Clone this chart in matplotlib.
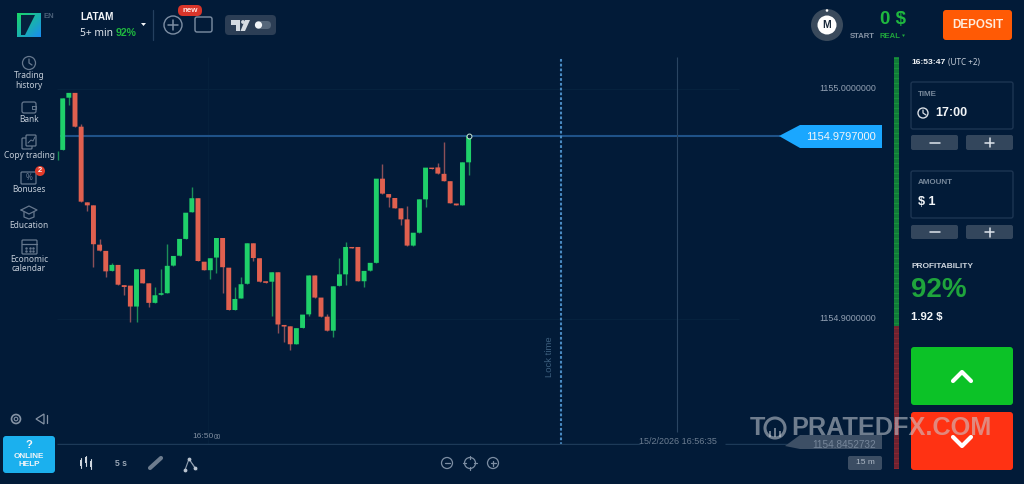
import numpy as np
from matplotlib import pyplot as plt
from matplotlib.patches import FancyBboxPatch, Circle, Polygon, Rectangle

opens = [
    1154.9735, 1154.9962, 1154.9983, 1154.9836, 1154.9507, 1154.9494, 1154.9323, 1154.9296, 1154.9209, 1154.9235,
    1154.9147, 1154.9145, 1154.9054, 1154.9216, 1154.9155, 1154.9070, 1154.9105, 1154.9112, 1154.9232, 1154.9275,
    1154.9348, 1154.9464, 1154.9525, 1154.9249, 1154.9212, 1154.9267, 1154.9352, 1154.9223, 1154.9039, 1154.9089,
    1154.9153, 1154.9329, 1154.9264, 1154.9164, 1154.9162, 1154.9203, 1154.8974, 1154.8968, 1154.8890, 1154.8961,
    1154.9020, 1154.9189, 1154.9093, 1154.9010, 1154.8949, 1154.9144, 1154.9194, 1154.9313, 1154.9313, 1154.9164,
    1154.9210, 1154.9244, 1154.9610, 1154.9543, 1154.9526, 1154.9481, 1154.9433, 1154.9319, 1154.9375, 1154.9520,
    1154.9658, 1154.9659, 1154.9631, 1154.9599, 1154.9502, 1154.9494, 1154.9681,
]
closes = [
    1154.9959, 1154.9983, 1154.9836, 1154.9510, 1154.9494, 1154.9325, 1154.9297, 1154.9207, 1154.9235, 1154.9149,
    1154.9139, 1154.9054, 1154.9216, 1154.9155, 1154.9070, 1154.9103, 1154.9112, 1154.9231, 1154.9274, 1154.9348,
    1154.9462, 1154.9525, 1154.9252, 1154.9212, 1154.9264, 1154.9352, 1154.9225, 1154.9039, 1154.9087, 1154.9151,
    1154.9329, 1154.9265, 1154.9162, 1154.9157, 1154.9203, 1154.8976, 1154.8967, 1154.8890, 1154.8960, 1154.9019,
    1154.9189, 1154.9093, 1154.9010, 1154.8949, 1154.9142, 1154.9194, 1154.9313, 1154.9307, 1154.9164, 1154.9209,
    1154.9244, 1154.9610, 1154.9545, 1154.9528, 1154.9481, 1154.9433, 1154.9319, 1154.9375, 1154.9520, 1154.9658,
    1154.9652, 1154.9632, 1154.9599, 1154.9503, 1154.9494, 1154.9681, 1154.9796,
]
highs = [
    1154.9959, 1154.9983, 1154.9983, 1154.9846, 1154.9507, 1154.9494, 1154.9349, 1154.9296, 1154.9245, 1154.9235,
    1154.9147, 1154.9145, 1154.9216, 1154.9216, 1154.9155, 1154.9141, 1154.9216, 1154.9326, 1154.9274, 1154.9348,
    1154.9462, 1154.9575, 1154.9525, 1154.9249, 1154.9264, 1154.9352, 1154.9352, 1154.9223, 1154.9138, 1154.9181,
    1154.9329, 1154.9329, 1154.9264, 1154.9164, 1154.9203, 1154.9203, 1154.8974, 1154.8968, 1154.8960, 1154.9019,
    1154.9189, 1154.9189, 1154.9093, 1154.9020, 1154.9142, 1154.9264, 1154.9336, 1154.9313, 1154.9313, 1154.9209,
    1154.9244, 1154.9610, 1154.9673, 1154.9543, 1154.9526, 1154.9481, 1154.9489, 1154.9375, 1154.9520, 1154.9658,
    1154.9658, 1154.9680, 1154.9771, 1154.9599, 1154.9502, 1154.9681, 1154.9796,
]
lows = [
    1154.9735, 1154.9930, 1154.9836, 1154.9510, 1154.9471, 1154.9228, 1154.9297, 1154.9184, 1154.9209, 1154.9149,
    1154.9105, 1154.8986, 1154.8986, 1154.9155, 1154.9054, 1154.9070, 1154.9105, 1154.9112, 1154.9232, 1154.9275,
    1154.9348, 1154.9464, 1154.9252, 1154.9212, 1154.9173, 1154.9199, 1154.9112, 1154.9039, 1154.9039, 1154.9089,
    1154.9153, 1154.9254, 1154.9162, 1154.9157, 1154.9013, 1154.8938, 1154.8902, 1154.8865, 1154.8890, 1154.8961,
    1154.9013, 1154.9093, 1154.9010, 1154.8949, 1154.8920, 1154.9144, 1154.9148, 1154.9307, 1154.9164, 1154.9141,
    1154.9210, 1154.9244, 1154.9545, 1154.9486, 1154.9481, 1154.9407, 1154.9319, 1154.9319, 1154.9375, 1154.9486,
    1154.9652, 1154.9632, 1154.9599, 1154.9503, 1154.9494, 1154.9494, 1154.9626,
]
price_ticks = [1155.0, 1154.9]
price_labels = ["1155.0000000", "1154.9000000"]
current_price = 1154.9797
bottom_price = 1154.8452732
clipped_wick = [1154.9691, 1154.9730]  # stub of the candle hidden by the side bar

BG = "#021b38"
GREEN = "#1fd06a"
RED = "#e0604f"
WHITE = "#f2f5f8"
ICON = "#66788e"
SANS = "Noto Sans"
ARIAL = "Liberation Sans"

fig = plt.figure(figsize=(10.24, 4.84), dpi=100, facecolor=BG)

# chart area, placed on the same pixels as the reference
ax = fig.add_axes([57 / 1024, 1 - 445 / 484, 826 / 1024, 388 / 484], zorder=2)
ax.patch.set_alpha(0)
ax.axis("off")
ax.set_xlim((57 - 62.7) / 6.15, (883 - 62.7) / 6.15)
ax.set_ylim(1154.8452, 1155.0139)

idx = np.arange(len(opens))
o = np.array(opens)
c = np.array(closes)
up = c >= o
body_col = [GREEN if u else RED for u in up]
wick_col = ["#1b8f58" if u else "#8c5058" for u in up]

ax.hlines(price_ticks, ax.get_xlim()[0], 110, color="#07233f", lw=0.7, zorder=1)
ax.vlines([(208 - 62.7) / 6.15], *ax.get_ylim(), color="#06213d", lw=0.7, zorder=1)
ax.hlines(current_price, -0.4, (780 - 62.7) / 6.15, color="#1f5288", lw=1.5, zorder=2)
ax.vlines(idx, lows, highs, color=wick_col, lw=1.0, zorder=3)
ax.vlines([-0.76], clipped_wick[0], clipped_wick[1], color="#1b8f58", lw=1.0, zorder=3)
ax.bar(idx, np.abs(c - o), bottom=np.minimum(o, c), width=0.8, color=body_col, zorder=4, snap=False)
ax.plot([idx[-1]], [closes[-1]], "o", ms=3.5, mfc=BG, mec="#c9e8d6", mew=0.7, zorder=5)

ax.vlines((561 - 62.7) / 6.15, *ax.get_ylim(), color="#4a8cc4", lw=1.5, linestyles=(0, (1.3, 1.0)), zorder=2)
ax.vlines((677 - 62.7) / 6.15, 1154.8508, 1155.0139, color="#2a4562", lw=0.8, zorder=2)
ax.hlines(1154.8452 + 0.0003, ax.get_xlim()[0], (640 - 62.7) / 6.15, color="#1d3a58", lw=1.0, zorder=2)
ax.hlines(1154.8452 + 0.0003, (725 - 62.7) / 6.15, (800 - 62.7) / 6.15, color="#1d3a58", lw=1.0, zorder=2)

price_x = (876 - 57) / 826
for p, lab in zip(price_ticks, price_labels):
    ax.text(price_x, p, lab, transform=ax.get_yaxis_transform(), ha="right", va="center",
            color="#93a1b3", fontsize=6.4, family=ARIAL)

# everything else of the trading screen, in pixel coordinates
ui = fig.add_axes([0, 0, 1, 1], zorder=3)
ui.patch.set_alpha(0)
ui.axis("off")


def text(x, y, s, color=WHITE, size=7, ha="left", weight="normal", family=None, **kw):
    if family is None:
        family = ARIAL if weight == "bold" else SANS
    return ui.text(x, y, s, color=color, fontsize=size, ha=ha, va="center", weight=weight, family=family, **kw)


def box(x0, y0, x1, y1, fc, ec="none", r=2, lw=1, z=2, alpha=None):
    ui.add_patch(FancyBboxPatch((x0 + r, y0 + r), x1 - x0 - 2 * r, y1 - y0 - 2 * r,
                                boxstyle=f"round,pad={r},rounding_size={r}", fc=fc, ec=ec, lw=lw, zorder=z, alpha=alpha))


def line(xs, ys, color=ICON, lw=0.9, z=3):
    ui.plot(xs, ys, color=color, lw=lw, zorder=z, solid_capstyle="round")


def circ(x, y, r, fc="none", ec=ICON, lw=0.9, z=3):
    ui.add_patch(Circle((x, y), r, fc=fc, ec=ec, lw=lw, zorder=z))


# logo
gx, gy = np.meshgrid(np.linspace(0, 1, 64), np.linspace(0, 1, 64))
k = (gx + gy) / 2
rgb = np.dstack([0.1 + 0 * k, 0.85 - 0.3 * k, 0.4 + 0.55 * k])
ui.imshow(rgb, extent=(17, 41, 37, 13), aspect="auto", zorder=2)
ui.add_patch(Polygon([(21, 15), (35, 15), (25, 35), (21, 35)], fc="#06223e", zorder=3))
text(43, 17, "EN", color="#4b6078", size=5.5, weight="bold")

# top bar
text(80, 17, "LATAM", size=7.2, weight="bold")
text(80, 33, "5+ min", color="#dfe5ec", size=7.4)
text(116, 33, "92%", color="#1fb83f", size=7.6, weight="bold")
ui.add_patch(Polygon([(141, 23), (146, 23), (143.5, 26)], fc=WHITE, zorder=3))
line([153, 153], [10, 40], color="#24405f")
circ(173, 25, 9, lw=1.0, ec="#7d8ea3")
line([168, 178], [25, 25], lw=1.1, color="#7d8ea3")
line([173, 173], [20, 30], lw=1.1, color="#7d8ea3")
box(195, 17, 212, 32, "none", ec="#7d8ea3", r=2)
box(178, 5, 202, 16, "#d8352a", r=5)
text(190, 10.5, "new", size=5.8, ha="center", weight="bold", color="#ffe4e0")
box(225, 15, 276, 35, "#2c3e55", r=4)
ui.add_patch(Polygon([(231, 20), (240, 20), (240, 31), (236, 31), (236, 25), (231, 25)], fc="#d5dbe2", zorder=3))
circ(243, 22, 1.9, fc="#d5dbe2", ec="none")
ui.add_patch(Polygon([(245, 20), (250, 20), (245, 31), (240.5, 31)], fc="#d5dbe2", zorder=3))
box(255, 21, 271, 29, "#55667a", r=4, z=3)
circ(258.5, 25, 3.6, fc=WHITE, ec="none", z=4)

circ(827, 25, 16, fc="#3a4a5c", ec="none")
circ(827, 25, 9.5, fc="white", ec="none", z=4)
circ(827, 10.5, 1.3, fc="white", ec="none", z=4)
text(827, 25, "M", color="#1a2a3c", size=7.5, ha="center", weight="bold", zorder=5)
text(893, 20, "0 $", color="#1fb83f", size=13.5, ha="center", weight="bold")
text(850, 36, "START", color="#8794a5", size=5.6, weight="bold")
text(879, 36, "REAL", color="#1fa53c", size=5.6, weight="bold")
ui.add_patch(Polygon([(902, 34.5), (905, 34.5), (903.5, 37)], fc="#1fa53c", zorder=3))
box(943, 10, 1012, 40, "#ff5a05", r=3)
text(977.5, 25, "DEPOSIT", size=8.4, ha="center", weight="bold", color="#ffeadb")

# side menu
menu = [("Trading", 76), ("history", 86), ("Bank", 120), ("Copy trading", 155), ("Bonuses", 190),
        ("Education", 225), ("Economic", 260), ("calendar", 268.5)]
for s, y in menu:
    text(29, y, s, color="#c3ccd7", size=6.0, ha="center")
circ(29, 63, 6.5)
line([29, 29, 32], [59, 63, 65])
box(22, 102, 36, 113, "none", ec=ICON, r=2, lw=0.9)
line([32, 36, 36, 32, 32], [106, 106, 109, 109, 106], lw=0.7)
box(22, 138, 32, 149, BG, ec=ICON, r=1, z=2, lw=0.9)
box(26, 135, 36, 146, BG, ec=ICON, r=1, z=3, lw=0.9)
line([28, 31, 33, 35], [143, 140, 141, 137], lw=0.7, z=4)
box(21, 172, 36, 184, "none", ec=ICON, r=1, lw=0.9)
text(29, 178, "%", color=ICON, size=6, ha="center")
circ(40, 171, 5, fc="#e23b2a", ec="none", z=4)
text(40, 171, "2", size=5.5, ha="center", weight="bold", zorder=5)
line([21, 29, 37, 29, 21], [210, 206, 210, 214, 210])
line([24, 24, 29, 34, 34], [212, 217, 219, 217, 212])
box(22, 240, 37, 254, "none", ec=ICON, r=1, lw=0.9)
line([22, 37], [244, 244])
gx, gy = np.meshgrid([26, 29.5, 33], [247.5, 251])
ui.scatter(gx.ravel(), gy.ravel(), s=0.6, color=ICON, zorder=3)

# bottom left
circ(16, 419, 4.5, lw=1.2, ec="#8593a5")
circ(16, 419, 1.8, lw=0.8, ec="#8593a5")
ui.add_patch(Polygon([(36, 419), (44, 414), (44, 424)], fc="none", ec="#8593a5", lw=0.9, zorder=3))
line([47, 47], [415, 423], color="#8593a5")
box(3, 436, 55, 473, "#1bb0ee", r=3)
text(29, 444.5, "?", size=8, ha="center", weight="bold")
text(29, 456, "ONLINE", size=5.9, ha="center", weight="bold")
text(29, 465, "HELP", size=5.9, ha="center", weight="bold")

# chart toolbar
for x, y0, y1, b0, b1 in [(81, 458, 468, 460, 466), (86, 456, 466, 457, 463), (91, 459, 469, 461, 467)]:
    line([x, x], [y0, y1], color="#cfd6de", lw=0.8)
    ui.add_patch(Rectangle((x - 1.2, b0), 2.4, b1 - b0, fc="#cfd6de", zorder=4))
text(121, 463, "5 s", color="#9aa7b6", size=6.2, ha="center", weight="bold")
line([150, 161], [468, 458], color="#6d7c8e", lw=3.0)
line([185, 189, 195], [470, 459, 468], color="#8d9bac", lw=0.8)
line([189, 197], [459, 470], color="#8d9bac", lw=0.5)
ui.scatter([185, 189, 195], [470, 459, 468], s=3, color="#b9c3cf", zorder=4)
circ(447, 463, 5.5, ec="#7d8ea3")
line([444.5, 449.5], [463, 463], color="#7d8ea3")
circ(470, 463, 5.5, ec="#7d8ea3")
for dx, dy in [(-6, 0), (6, 0), (0, -6), (0, 6)]:
    line([470 + dx * 0.6, 470 + dx * 1.2], [463 + dy * 0.6, 463 + dy * 1.2], color="#7d8ea3")
circ(493, 463, 5.5, ec="#7d8ea3")
line([490.5, 495.5], [463, 463], color="#7d8ea3")
line([493, 493], [460.5, 465.5], color="#7d8ea3")

# axis texts
text(192.5, 437, "16:50", color="#7f8d9f", size=6.0, family=ARIAL)
text(214, 437.5, "00", color="#7f8d9f", size=4.8, family=ARIAL)
text(678, 441, "15/2/2026 16:56:35", color="#6c7d91", size=6.5, ha="center", family=ARIAL)
text(549, 357, "Lock time", color="#3c5e7d", size=6.8, ha="center", rotation=90, family=ARIAL)

# price tags
ui.add_patch(Polygon([(779, 136), (800, 125), (882, 125), (882, 148), (800, 148)], fc="#1aa7ff", zorder=3))
text(876, 136.5, "1154.9797000", size=8, ha="right", family=ARIAL, zorder=4)
ui.add_patch(Polygon([(785, 446), (800, 435), (882, 435), (882, 449), (800, 449)], fc="#3d4f65", zorder=3))
text(876, 445.5, f"{bottom_price:.7f}", color="#76869a", size=7.2, ha="right", family=ARIAL, zorder=4)
box(848, 456, 882, 470, "#3b4d63", r=2)
text(865, 463, "15 m", color="#aeb9c6", size=6, ha="center", family=ARIAL)

# sentiment meter
ui.add_patch(Rectangle((894, 57), 5, 269, fc="#16933a", zorder=2))
ui.add_patch(Rectangle((894, 326), 5, 143, fc="#8a2530", zorder=2))
ui.hlines(np.arange(57, 470, 2.5), 894, 899, color=BG, lw=0.35, alpha=0.8, zorder=3)

# order panel
text(911, 62, "16:53:47", size=6.1, weight="bold")
text(948, 62, "(UTC +2)", color="#c3ccd7", size=5.8)
for y0, y1, label, ly in [(82, 129, "TIME", 94), (171, 218, "AMOUNT", 183)]:
    box(911, y0, 1013, y1, "none", ec="#1d3552", r=2)
    text(918, ly, label, color="#77889b", size=5.8, weight="bold")
circ(923, 113, 5, ec="#d7dde4", lw=1)
line([923, 923, 926], [110, 113, 115], color="#d7dde4")
text(935, 113, "17:00", size=9, weight="bold")
text(918, 202, "$ 1", size=9, weight="bold")
for y0, y1 in [(135, 150), (225, 239)]:
    ym = (y0 + y1) / 2
    box(911, y0, 958, y1, "#33465c", r=2)
    box(966, y0, 1013, y1, "#33465c", r=2)
    line([930, 940], [ym, ym], color="#dfe5ec", lw=1.1)
    line([985, 994], [ym, ym], color="#dfe5ec", lw=1.1)
    line([989.5, 989.5], [ym - 4.5, ym + 4.5], color="#dfe5ec", lw=1.1)
text(911, 266, "PROFITABILITY", color="#cdd5de", size=6, weight="bold")
text(911, 290, "92%", color="#1fa53c", size=20, weight="bold")
text(911, 317, "1.92 $", size=8.2, weight="bold")

# call / put buttons
box(911, 347, 1013, 405, "#0cc227", r=3)
box(911, 412, 1013, 470, "#ff3213", r=3)
line([953, 962, 971], [381, 372, 381], color="white", lw=3)
line([953, 962, 971], [437, 446, 437], color="white", lw=3)

# watermark
wm = dict(color="#c9cfd6", alpha=0.55, size=18.2, weight="bold", zorder=8)
text(750, 428, "T", **wm)
ui.add_patch(Circle((775, 428), 10, fc="none", ec="#c9cfd6", lw=2.2, alpha=0.55, zorder=8))
for x, h in [(770, 6), (775, 9), (780, 6)]:
    ui.add_patch(Rectangle((x - 1, 437 - h), 2, h, fc="#c9cfd6", alpha=0.55, zorder=8))
text(791, 428, "PRATEDFX.COM", **wm)

ui.set_xlim(0, 1024)
ui.set_ylim(484, 0)

fig.savefig("out.png", dpi=100, facecolor=BG)
